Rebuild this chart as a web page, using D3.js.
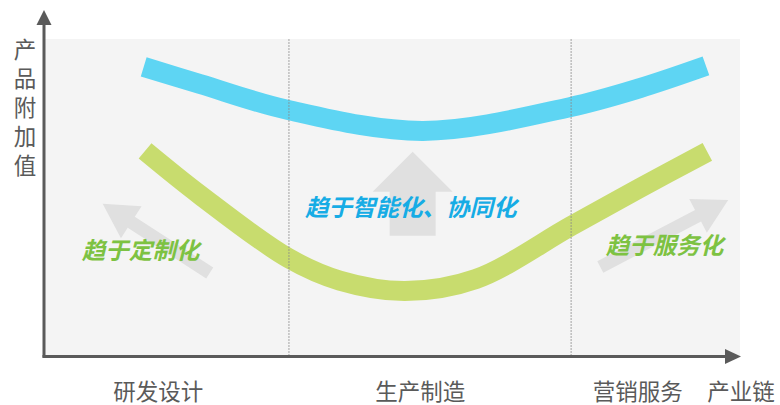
<!DOCTYPE html>
<html>
<head>
<meta charset="utf-8">
<script src="https://cdn.jsdelivr.net/npm/d3@7"></script>
<style>
  html, body { margin: 0; padding: 0; background: #fff; }
  svg { display: block; font-family: "Noto Sans CJK SC", "Noto Sans", sans-serif; }
</style>
</head>
<body>
<div id="chart"></div>
<script>
// value-added curves along the industry chain (x: 0..100 along chain, y: 0..100 value added)
const blueX = [14.2, 22.3, 35.0, 54.4, 75.5, 85.6, 95.1];
const blueY = [91.2, 85.8, 77.6, 71.0, 78.5, 84.5, 91.5];
const greenX = [14.4, 22.3, 35.0, 42.4, 51.8, 62.0, 75.7, 85.6, 95.3];
const greenY = [64.7, 50.8, 30.9, 23.8, 20.5, 24.3, 41.0, 53.0, 64.4];

// stage dividers and stage labels
const dividers = [35.1, 75.7];
const stageLabels = ["研发设计", "生产制造", "营销服务"];
const stagePos = [16.3, 54.0, 85.3];
const xTitle = "产业链";
const yTitle = ["产", "品", "附", "加", "值"];

// trend arrows: [tailX, tailY, tipX, tipY]
const trendArrows = [
  [23.7, 26.2, 8.3, 48.0],
  [52.9, 37.9, 52.9, 64.4],
  [79.9, 28.1, 98.3, 49.2]
];
const trendLabels = ["趋于定制化", "趋于智能化、协同化", "趋于服务化"];
const trendLabelX = [14.1, 53.0, 89.5];
const trendLabelY = [33.8, 47.3, 35.3];

const W = 780, H = 405;
const mLeft = 45, mRight = 740, mTop = 39, mBottom = 356;

const svg = d3.select("#chart").append("svg")
  .attr("width", W).attr("height", H);

const x = d3.scaleLinear().domain([0, 100]).range([mLeft, mRight]);
const y = d3.scaleLinear().domain([0, 100]).range([mBottom, mTop]);

// plot background
svg.append("rect")
  .attr("x", x(0)).attr("y", y(100))
  .attr("width", x(100) - x(0)).attr("height", y(0) - y(100))
  .attr("fill", "#f4f4f4");

// gray trend arrows
function arrowPath(a, big) {
  const [x0, y0, x1, y1] = [x(a[0]), y(a[1]), x(a[2]), y(a[3])];
  const dx = x1 - x0, dy = y1 - y0, len = Math.hypot(dx, dy);
  const ux = dx / len, uy = dy / len, px = -uy, py = ux;
  const headLen = big ? 40 : 34, headW = big ? 40 : 19, shaftW = big ? 23 : 6.5;
  const bx = x1 - ux * headLen, by = y1 - uy * headLen;
  const pts = [
    [x0 + px * shaftW, y0 + py * shaftW],
    [bx + px * shaftW, by + py * shaftW],
    [bx + px * headW, by + py * headW],
    [x1, y1],
    [bx - px * headW, by - py * headW],
    [bx - px * shaftW, by - py * shaftW],
    [x0 - px * shaftW, y0 - py * shaftW]
  ];
  return "M" + pts.map(p => p.join(",")).join("L") + "Z";
}

svg.append("g").selectAll("path")
  .data(trendArrows)
  .enter().append("path")
  .attr("d", (d, i) => arrowPath(d, i === 1))
  .attr("fill", "#e0e0e0");

// curves
const line = d3.line()
  .x(d => x(d[0])).y(d => y(d[1]))
  .curve(d3.curveCatmullRom.alpha(0.5));

svg.append("path")
  .datum(blueX.map((v, i) => [v, blueY[i]]))
  .attr("d", line)
  .attr("fill", "none")
  .attr("stroke", "#5ed5f3")
  .attr("stroke-width", 20);

svg.append("path")
  .datum(greenX.map((v, i) => [v, greenY[i]]))
  .attr("d", line)
  .attr("fill", "none")
  .attr("stroke", "#c8dc6e")
  .attr("stroke-width", 20);

// dashed stage dividers
svg.append("g").selectAll("line")
  .data(dividers)
  .enter().append("line")
  .attr("x1", d => x(d)).attr("x2", d => x(d))
  .attr("y1", y(100)).attr("y2", y(0))
  .attr("stroke", "#888")
  .attr("stroke-opacity", 0.75)
  .attr("stroke-width", 1)
  .attr("stroke-dasharray", "2,1");

// trend labels (bold, slanted)
svg.append("g").selectAll("text")
  .data(trendLabels)
  .enter().append("text")
  .attr("transform", (d, i) => `translate(${x(trendLabelX[i])},${y(trendLabelY[i])}) skewX(-14)`)
  .attr("text-anchor", "middle")
  .attr("dominant-baseline", "central")
  .attr("font-size", 23.5)
  .attr("font-weight", "bold")
  .attr("fill", (d, i) => i === 1 ? "#16ace5" : "#7dc242")
  .text(d => d);

// axes with arrowheads
const axisColor = "#5a5a5a";
svg.append("line")
  .attr("x1", x(0) - 1).attr("x2", x(0) - 1)
  .attr("y1", y(0) + 1.5).attr("y2", 24)
  .attr("stroke", axisColor).attr("stroke-width", 3);
svg.append("path")
  .attr("d", `M${x(0) - 1},10L${x(0) - 8.5},25L${x(0) + 6.5},25Z`)
  .attr("fill", axisColor);

svg.append("line")
  .attr("x1", x(0) - 2.5).attr("x2", 727)
  .attr("y1", y(0) + 0.5).attr("y2", y(0) + 0.5)
  .attr("stroke", axisColor).attr("stroke-width", 3);
svg.append("path")
  .attr("d", `M741,${y(0) + 0.5}L725,${y(0) - 7}L725,${y(0) + 8}Z`)
  .attr("fill", axisColor);

// stage labels under the x axis
svg.append("g").selectAll("text")
  .data(stageLabels)
  .enter().append("text")
  .attr("x", (d, i) => x(stagePos[i]))
  .attr("y", 390)
  .attr("text-anchor", "middle")
  .attr("dominant-baseline", "central")
  .attr("font-size", 22.5)
  .attr("fill", "#5a5a5a")
  .text(d => d);

svg.append("text")
  .attr("x", 741).attr("y", 390)
  .attr("text-anchor", "middle")
  .attr("dominant-baseline", "central")
  .attr("font-size", 22.5)
  .attr("fill", "#5a5a5a")
  .text(xTitle);

// vertical y title
svg.append("g").selectAll("text")
  .data(yTitle)
  .enter().append("text")
  .attr("x", 25)
  .attr("y", (d, i) => 48 + i * 29)
  .attr("text-anchor", "middle")
  .attr("dominant-baseline", "central")
  .attr("font-size", 22.5)
  .attr("fill", "#5a5a5a")
  .text(d => d);
</script>
</body>
</html>
